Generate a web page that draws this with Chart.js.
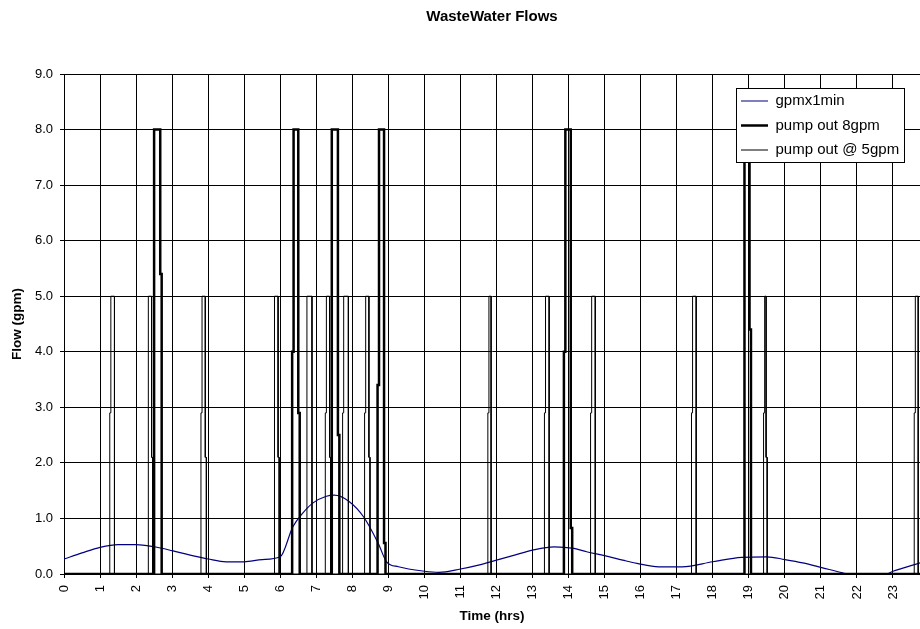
<!DOCTYPE html>
<html>
<head>
<meta charset="utf-8">
<script src="https://cdn.jsdelivr.net/npm/chart.js@4.4.1/dist/chart.umd.min.js"></script>
<style>
html,body{margin:0;padding:0;background:#ffffff;overflow:hidden;}
canvas{display:block;}
</style>
</head>
<body>
<canvas id="c" width="920" height="629"></canvas>
<script>
const FONT = "'Liberation Sans', Arial, Helvetica, sans-serif";

// ---- data ----
const chartTitle = 'WasteWater Flows';
const xTitle = 'Time (hrs)';
const yTitle = 'Flow (gpm)';
const seriesNames = ['gpmx1min', 'pump out 8gpm', 'pump out @ 5gpm'];

// gpmx1min (hours, gpm)
const flowHours = [0, 0.5, 1, 1.5, 2, 2.5, 3, 3.5, 4, 4.5, 5, 5.5, 6, 6.35, 6.63, 6.91, 7.28, 7.5, 7.9, 8.31, 8.72, 8.95, 9.28, 10, 10.4, 11, 11.5, 12, 12.5, 13, 13.6, 14.15, 14.5, 15, 15.5, 15.9, 16.5, 17.15, 18, 18.8, 19.5, 20, 20.5, 21, 21.6, 21.75, 22.8, 23, 23.75];
const flowGpm   = [0.27, 0.38, 0.48, 0.53, 0.53, 0.49, 0.42, 0.34, 0.27, 0.22, 0.22, 0.26, 0.31, 0.85, 1.10, 1.28, 1.40, 1.42, 1.31, 1.03, 0.55, 0.22, 0.13, 0.05, 0.03, 0.09, 0.16, 0.25, 0.34, 0.43, 0.49, 0.46, 0.40, 0.33, 0.25, 0.19, 0.13, 0.13, 0.22, 0.30, 0.31, 0.26, 0.20, 0.12, 0.02, 0.0, 0.0, 0.05, 0.20];

// pump out 8gpm pulses (hours on / off, intermediate levels at the edges)
const pump8Level = 8;
const pump8On       = [2.50, 6.33, 7.43, 8.70, 13.87, 18.88];
const pump8Off      = [2.67, 6.50, 7.60, 8.88, 14.06, 19.02];
const pump8RiseStep = [null, 4.0, null, 3.4, 4.0, null];
const pump8FallStep = [5.4, 2.9, 2.5, 0.56, 0.83, 4.4];

// pump out @ 5gpm pulses
const pump5Level = 5;
const pump5On       = [1.27, 2.34, 3.80, 5.84, 6.74, 7.25, 7.73, 8.34, 11.76, 13.33, 14.61, 17.41, 19.41, 23.59];
const pump5Off      = [1.40, 2.43, 3.92, 5.94, 6.88, 7.37, 7.89, 8.46, 11.85, 13.46, 14.74, 17.54, 19.48, 23.70];
const pump5RiseStep = [2.9, null, 2.9, null, null, 2.9, 2.9, 2.9, 2.9, 2.9, 2.9, 2.9, 2.9, 2.9];
const pump5FallStep = [null, 2.1, 2.1, 2.1, null, 2.1, null, 2.1, null, null, null, null, 2.1, null];

const xMin = 0, xMax = 23.75, dayEnd = 24;
const yMin = 0, yMax = 9, yStep = 1;

// ---- build line vertices from the pulse tables ----
function pulsePoints(on, off, rise, fall, level, jog) {
  const pts = [{x: 0, y: 0}];
  for (let i = 0; i < on.length; i++) {
    pts.push({x: on[i], y: 0});
    if (rise[i] !== null) {
      pts.push({x: on[i], y: rise[i]});
      pts.push({x: on[i] + jog, y: rise[i]});
      pts.push({x: on[i] + jog, y: level});
    } else {
      pts.push({x: on[i], y: level});
    }
    pts.push({x: off[i], y: level});
    if (fall[i] !== null) {
      pts.push({x: off[i], y: fall[i]});
      pts.push({x: off[i] + jog, y: fall[i]});
      pts.push({x: off[i] + jog, y: 0});
    } else {
      pts.push({x: off[i], y: 0});
    }
  }
  pts.push({x: dayEnd, y: 0});
  return pts;
}

const flowData = flowHours.map((h, i) => ({x: h, y: flowGpm[i]}));
const pump8Data = pulsePoints(pump8On, pump8Off, pump8RiseStep, pump8FallStep, pump8Level, 0.04);
const pump5Data = pulsePoints(pump5On, pump5Off, pump5RiseStep, pump5FallStep, pump5Level, 0.03);

// legend box geometry (pixels)
const LEG = {boxL: 736, boxT: 88, boxW: 168, boxH: 74, pad: 9.5, itemX: 741, firstTop: 93.5};

const legendOnTop = {
  id: 'legendOnTop',
  afterLayout(chart) {
    const L = chart.legend;
    if (!L) return;
    L.left = LEG.itemX - LEG.pad;
    L.top = LEG.firstTop - LEG.pad;
    L.right = LEG.boxL + LEG.boxW;
    L.bottom = LEG.boxT + LEG.boxH + 20;
    L.width = L.right - L.left;
    L.height = L.bottom - L.top;
  },
  afterDatasetsDraw(chart) {
    const ctx = chart.ctx;
    ctx.save();
    ctx.fillStyle = '#ffffff';
    ctx.fillRect(LEG.boxL, LEG.boxT, LEG.boxW, LEG.boxH);
    ctx.strokeStyle = '#000000';
    ctx.lineWidth = 1;
    ctx.strokeRect(LEG.boxL + 0.5, LEG.boxT + 0.5, LEG.boxW, LEG.boxH);
    ctx.restore();
    chart.legend.draw();
  }
};

new Chart(document.getElementById('c'), {
  type: 'line',
  data: {
    datasets: [
      {
        label: seriesNames[0],
        data: flowData,
        borderColor: '#000080',
        borderWidth: 1.2,
        pointRadius: 0,
        cubicInterpolationMode: 'monotone',
        fill: false,
        order: 3
      },
      {
        label: seriesNames[1],
        data: pump8Data,
        borderColor: '#000000',
        borderWidth: 2.5,
        pointRadius: 0,
        tension: 0,
        fill: false,
        order: 2
      },
      {
        label: seriesNames[2],
        data: pump5Data,
        borderColor: '#000000',
        borderWidth: 1,
        pointRadius: 0,
        tension: 0,
        fill: false,
        order: 1
      }
    ]
  },
  options: {
    responsive: false,
    animation: false,
    devicePixelRatio: 1,
    layout: {padding: {left: 0, right: 0, top: 0, bottom: 0}},
    plugins: {
      tooltip: {enabled: false},
      title: {
        display: true,
        text: chartTitle,
        fullSize: false,
        color: '#000000',
        font: {family: FONT, size: 15, weight: 'bold', lineHeight: 1.2},
        padding: {top: 8, bottom: 48}
      },
      legend: {
        display: true,
        position: 'chartArea',
        align: 'start',
        labels: {
          usePointStyle: true,
          pointStyle: 'line',
          pointStyleWidth: 27,
          padding: LEG.pad,
          color: '#000000',
          font: {family: FONT, size: 15},
          sort: (a, b) => a.datasetIndex - b.datasetIndex
        }
      }
    },
    scales: {
      x: {
        type: 'linear',
        min: xMin,
        max: xMax,
        afterBuildTicks: (s) => { s.ticks = s.ticks.filter(t => Number.isInteger(t.value)); },
        afterFit: (s) => { s.height = 55; },
        ticks: {
          stepSize: 1,
          autoSkip: false,
          minRotation: 90,
          maxRotation: 90,
          padding: 7,
          color: '#000000',
          font: {family: FONT, size: 13}
        },
        grid: {color: '#000000', lineWidth: 1, tickLength: 4, drawTicks: true},
        border: {color: '#000000', width: 1},
        title: {
          display: true,
          text: xTitle,
          color: '#000000',
          font: {family: FONT, size: 13.5, weight: 'bold', lineHeight: 1.2},
          padding: {top: 0, bottom: 5}
        }
      },
      y: {
        type: 'linear',
        min: yMin,
        max: yMax,
        afterFit: (s) => { s.width = 64; },
        ticks: {
          stepSize: yStep,
          padding: 7,
          color: '#000000',
          font: {family: FONT, size: 13},
          callback: (v) => Number(v).toFixed(1)
        },
        grid: {color: '#000000', lineWidth: 1, tickLength: 4, drawTicks: true},
        border: {color: '#000000', width: 1},
        title: {
          display: true,
          text: yTitle,
          color: '#000000',
          font: {family: FONT, size: 13.5, weight: 'bold', lineHeight: 1.2},
          padding: {top: 9.5, bottom: 0}
        }
      }
    }
  },
  plugins: [legendOnTop]
});
</script>
</body>
</html>
